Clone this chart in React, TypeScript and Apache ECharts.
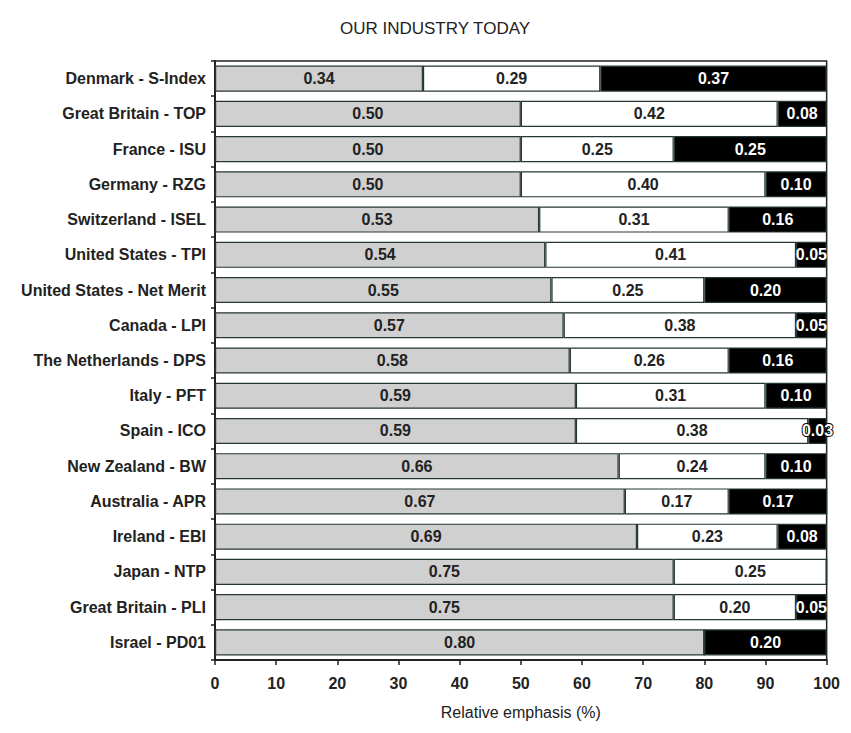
import React, { useEffect, useRef } from "react";
import * as echarts from "echarts";

const categories = [
  "Denmark - S-Index",
  "Great Britain - TOP",
  "France - ISU",
  "Germany - RZG",
  "Switzerland - ISEL",
  "United States - TPI",
  "United States - Net Merit",
  "Canada - LPI",
  "The Netherlands - DPS",
  "Italy - PFT",
  "Spain - ICO",
  "New Zealand - BW",
  "Australia - APR",
  "Ireland - EBI",
  "Japan - NTP",
  "Great Britain - PLI",
  "Israel - PD01",
];

const grayValues = [0.34, 0.5, 0.5, 0.5, 0.53, 0.54, 0.55, 0.57, 0.58, 0.59, 0.59, 0.66, 0.67, 0.69, 0.75, 0.75, 0.8];
const whiteValues = [0.29, 0.42, 0.25, 0.4, 0.31, 0.41, 0.25, 0.38, 0.26, 0.31, 0.38, 0.24, 0.17, 0.23, 0.25, 0.2, 0];
const blackValues = [0.37, 0.08, 0.25, 0.1, 0.16, 0.05, 0.2, 0.05, 0.16, 0.1, 0.03, 0.1, 0.17, 0.08, 0, 0.05, 0.2];

const xTicks = [0, 10, 20, 30, 40, 50, 60, 70, 80, 90, 100];

const FONT = "Liberation Sans, Arial, sans-serif";

export default function App() {
  const ref = useRef<HTMLDivElement>(null);
  useEffect(() => {
    if (!ref.current) return;
    const chart = echarts.init(ref.current, undefined, { renderer: "svg" });
    const mk = (name: string, vals: number[], color: string, textColor: string) => ({
      name,
      type: "bar",
      stack: "total",
      barWidth: "74%",
      data: vals.map((v) =>
        v > 0 && v < 0.04
          ? {
              value: v * 100,
              raw: v,
              label: { textBorderColor: "#000", textBorderWidth: 2, color: "#fff" },
            }
          : { value: v * 100, raw: v }
      ),
      itemStyle: { color, borderColor: "#263636", borderWidth: 1.2 },
      label: {
        show: true,
        position: "inside",
        color: textColor,
        fontFamily: FONT,
        fontWeight: "bold",
        fontSize: 16,
        formatter: (p: any) => (p.data.raw > 0 ? p.data.raw.toFixed(2) : ""),
      },
    });
    chart.setOption({
      animation: false,
      backgroundColor: "#ffffff",
      title: {
        text: "OUR INDUSTRY TODAY",
        left: 422,
        top: 7,
        textAlign: "center",
        textStyle: { fontFamily: FONT, fontWeight: "normal", fontSize: 17, color: "#222" },
      },
      grid: {
        left: 207,
        right: 8,
        top: 53,
        bottom: 52,
        show: true,
        borderColor: "#222",
        borderWidth: 1.5,
      },
      xAxis: {
        type: "value",
        min: 0,
        max: 100,
        interval: 10,
        name: "Relative emphasis (%)",
        nameLocation: "middle",
        nameGap: 44,
        nameTextStyle: { fontFamily: FONT, fontSize: 16, color: "#222" },
        axisLine: { show: true, lineStyle: { color: "#222", width: 2 } },
        axisTick: { show: true, length: 5, lineStyle: { color: "#222", width: 1.5 } },
        axisLabel: {
          fontFamily: FONT,
          fontWeight: "bold",
          fontSize: 16,
          color: "#222",
          margin: 15,
          formatter: (v: number) => (xTicks.includes(v) ? String(v) : ""),
        },
        splitLine: { show: false },
      },
      yAxis: {
        type: "category",
        inverse: true,
        data: categories,
        axisLine: { show: true, lineStyle: { color: "#222", width: 2 } },
        axisTick: { show: true, length: 4, lineStyle: { color: "#222", width: 1.5 } },
        axisLabel: {
          fontFamily: FONT,
          fontWeight: "bold",
          fontSize: 16,
          color: "#222",
          margin: 9,
        },
      },
      series: [
        mk("a", grayValues, "#d0d0d0", "#222"),
        mk("b", whiteValues, "#ffffff", "#222"),
        mk("c", blackValues, "#000000", "#ffffff"),
      ],
    });
    return () => chart.dispose();
  }, []);
  return <div ref={ref} style={{ width: 835, height: 717 }} />;
}
